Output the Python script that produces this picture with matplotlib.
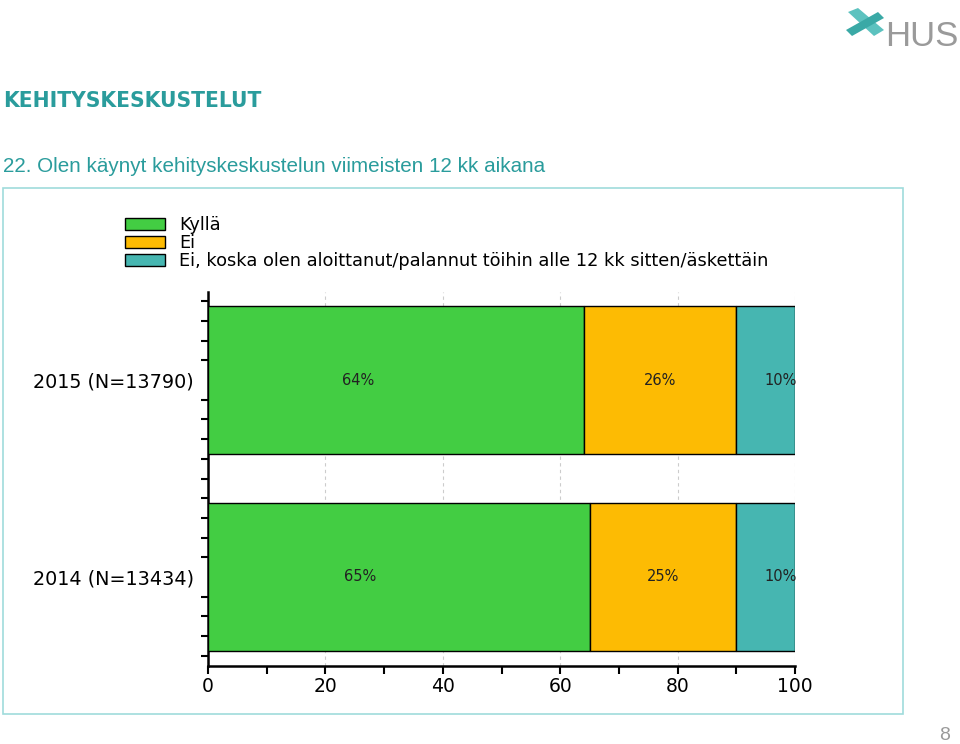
import matplotlib
matplotlib.use("Agg")
import matplotlib.pyplot as plt
from matplotlib.patches import Rectangle, Polygon
import numpy as np

# data
groups = ["2014 (N=13434)", "2015 (N=13790)"]
series_names = ["Kyllä", "Ei", "Ei, koska olen aloittanut/palannut töihin alle 12 kk sitten/äskettäin"]
kylla = [65, 64]
ei = [25, 26]
ei_uusi = [10, 10]
colors = ["#43cd43", "#fdbb03", "#46b6b1"]
label_frac = [0.4, 0.5, 0.76]  # where the % labels sit inside each segment

teal = "#2a9c9c"

fig = plt.figure(figsize=(9.6, 7.44), dpi=100)

# header texts
fig.text(3/960, 1-101/744, "KEHITYSKESKUSTELUT", color=teal, fontsize=16.2,
         fontweight="bold", family="DejaVu Sans", fontstretch="condensed",
         va="center", ha="left")
fig.text(3/960, 1-166/744, "22. Olen käynyt kehityskeskustelun viimeisten 12 kk aikana",
         color=teal, fontsize=14.9, family="Liberation Sans", va="center", ha="left")

# HUS logo (rough)
fig.text(958/960, 1-36/744, "HUS", color="#9a9a9a", fontsize=25, family="Liberation Sans",
         ha="right", va="center")
fig.patches.append(Polygon([[848/960, 1-12/744], [858/960, 1-8/744], [884/960, 1-30/744],
                            [874/960, 1-36/744]], closed=True, transform=fig.transFigure,
                           facecolor="#5cc2bf", edgecolor="none"))
fig.patches.append(Polygon([[846/960, 1-30/744], [878/960, 1-12/744], [884/960, 1-18/744],
                            [852/960, 1-36/744]], closed=True, transform=fig.transFigure,
                           facecolor="#3aa9a6", edgecolor="none"))

# frame around chart
fig.patches.append(Rectangle((3/960, 1-714/744), 900/960, 526/744, transform=fig.transFigure,
                             fill=False, edgecolor="#9fdcdc", linewidth=1.2))

fig.text(950/960, 1-736/744, "8", color="#9a9a9a", fontsize=14, family="Liberation Sans",
         ha="right", va="center")

ax = fig.add_axes([208/960, 1-666/744, 587/960, 374/744])

y = np.arange(len(groups))
h = 0.751
left = np.zeros(len(groups))
handles = []
for vals, c, name, fr in zip([kylla, ei, ei_uusi], colors, series_names, label_frac):
    vals = np.array(vals, dtype=float)
    b = ax.barh(y, vals, left=left, height=h, color=c, edgecolor="black", linewidth=1,
                label=name, zorder=3)
    handles.append(b)
    for yi, v, l in zip(y, vals, left):
        ax.text(l + v*fr, yi, f"{v:.0f}%", ha="center", va="center", fontsize=10.5,
                color="#222222", zorder=4)
    left += vals

ax.set_xlim(0, 100)
ax.set_ylim(-0.452, 1.447)
ax.set_xticks(np.arange(0, 101, 20))
ax.set_xticks(np.arange(10, 100, 20), minor=True)
ax.tick_params(axis="x", which="major", length=6, width=1.5, labelsize=13.5, pad=2, direction="out")
ax.tick_params(axis="x", which="minor", length=6, width=1.5, direction="out")
ax.set_yticks(y)
ax.set_yticklabels(groups, fontsize=13.8)
minor_y = [v/10 for v in range(-4, 15) if v not in (0, 10)]
ax.set_yticks(minor_y, minor=True)
ax.tick_params(axis="y", which="major", length=0, pad=10)
ax.tick_params(axis="y", which="minor", length=5, width=1.5, direction="out")

for s in ["top", "right"]:
    ax.spines[s].set_visible(False)
for s in ["left", "bottom"]:
    ax.spines[s].set_linewidth(1.8)

ax.grid(axis="x", linestyle=(0, (3, 3)), color="#cccccc", linewidth=0.8, zorder=0)
ax.set_axisbelow(True)

fig.legend(handles=handles, labels=series_names, loc="upper left",
           bbox_to_anchor=(109/960, 1-200/744), frameon=False, fontsize=12.8,
           handlelength=2.25, handleheight=0.7, labelspacing=0.0, handletextpad=0.78)

fig.savefig("out.png", dpi=100)
